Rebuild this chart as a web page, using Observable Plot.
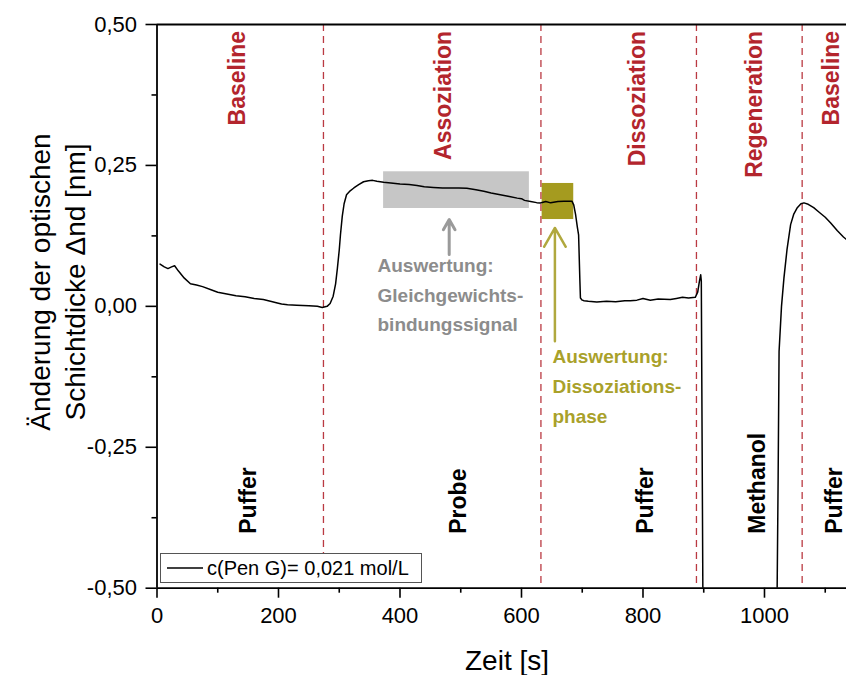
<!DOCTYPE html>
<html>
<head>
<meta charset="utf-8">
<script src="https://cdn.jsdelivr.net/npm/d3@7"></script>
<script src="https://cdn.jsdelivr.net/npm/@observablehq/plot@0.6"></script>
<style>
  html, body { margin: 0; padding: 0; background: #fff; }
  #chart svg { display: block; }
</style>
</head>
<body>
<div id="chart"></div>
<script>
// ---- data (time in s, change of optical thickness in nm) ----
const times = [5, 12, 18, 24, 29, 35, 45, 55, 65, 75, 90, 100, 115, 130, 145, 160, 175, 190, 198, 205, 215, 230, 250, 264, 272, 280, 285, 290, 294, 297, 300, 302, 305, 308, 312, 318, 324, 332, 340, 348, 355, 362, 373, 385, 400, 415, 428, 440, 455, 470, 483, 497, 510, 525, 538, 550, 565, 580, 593, 600, 605, 615, 625, 631, 640, 648, 660, 670, 683, 686, 689, 692, 694, 696, 697, 700, 703, 710, 724, 740, 755, 770, 779, 790, 800, 812, 825, 845, 855, 865, 875, 886, 890, 893, 895, 896, 899, 905, 1015, 1020, 1022.5, 1024, 1028, 1032, 1037, 1043, 1048, 1054, 1060, 1065, 1072, 1081, 1090, 1100, 1109, 1120, 1130, 1135];
const values = [0.075, 0.070, 0.067, 0.070, 0.072, 0.063, 0.050, 0.040, 0.038, 0.035, 0.029, 0.025, 0.022, 0.019, 0.017, 0.014, 0.012, 0.008, 0.006, 0.004, 0.003, 0.002, 0.001, 0.000, -0.002, 0.000, 0.005, 0.018, 0.040, 0.068, 0.100, 0.127, 0.160, 0.182, 0.198, 0.205, 0.210, 0.216, 0.221, 0.223, 0.2235, 0.222, 0.220, 0.219, 0.217, 0.216, 0.2145, 0.212, 0.211, 0.210, 0.210, 0.210, 0.2095, 0.207, 0.204, 0.201, 0.198, 0.195, 0.192, 0.191, 0.188, 0.186, 0.184, 0.1835, 0.186, 0.1836, 0.186, 0.1866, 0.1866, 0.180, 0.163, 0.140, 0.127, 0.050, 0.0148, 0.011, 0.010, 0.009, 0.0077, 0.009, 0.008, 0.010, 0.010, 0.011, 0.014, 0.011, 0.013, 0.012, 0.014, 0.016, 0.015, 0.016, 0.025, 0.045, 0.056, 0.045, -0.60, -0.62, -0.62, -0.60, -0.30, -0.08, 0.000, 0.050, 0.100, 0.145, 0.163, 0.175, 0.182, 0.1836, 0.181, 0.175, 0.167, 0.158, 0.148, 0.134, 0.123, 0.1185];
const seriesName = "c(Pen G)= 0,021 mol/L";

// phase boundaries (s) and labels
const phaseBounds = [274, 632, 888, 1062];
const phaseNames = ["Baseline", "Assoziation", "Dissoziation", "Regeneration", "Baseline"];
const phaseNameX = [132, 472, 791, 984, 1110];
const solutionNames = ["Puffer", "Probe", "Puffer", "Methanol", "Puffer"];
const solutionX = [151, 496, 805, 988, 1116];

// evaluation windows: [t1, t2, v1, v2]
const equilibriumWindow = [373, 613, 0.1736, 0.2387];
const dissociationWindow = [634, 686, 0.154, 0.218];
// annotation arrows [t, vFrom, vTo]
const equilibriumArrow = [481, 0.092, 0.154];
const dissociationArrow = [655, -0.062, 0.139];
const equilibriumText = ["Auswertung:", "Gleichgewichts-", "bindungssignal"];
const equilibriumTextPos = [363, [0.0711, 0.0178, -0.0338]];
const dissociationText = ["Auswertung:", "Dissoziations-", "phase"];
const dissociationTextPos = [651, [-0.0889, -0.1422, -0.1955]];

// axes
const xTicks = [0, 200, 400, 600, 800, 1000];
const xMinorTicks = [100, 300, 500, 700, 900, 1100];
const yTicks = [-0.5, -0.25, 0, 0.25, 0.5];
const yTickLabels = ["-0,50", "-0,25", "0,00", "0,25", "0,50"];
const yMinorTicks = [-0.375, -0.125, 0.125, 0.375];
const xLabel = "Zeit [s]";
const yLabelLines = ["Änderung der optischen", "Schichtdicke \u0394nd [nm]"];

const data = times.map((t, i) => ({t, v: values[i]}));
const RED = "#b3252d";
const GRAY = "#8c8c8c";
const OLIVE = "#a9a12a";
const FONT = "'Liberation Sans', Arial, sans-serif";
const phaseTopY = 0.4887;
const solutionBottomY = -0.4034;

const chart = Plot.plot({
  width: 846,
  height: 675,
  marginLeft: 156.5,
  marginRight: 0,
  marginTop: 24,
  marginBottom: 87.3,
  x: {domain: [0, 1135]},
  y: {domain: [-0.5, 0.5]},
  style: {fontFamily: FONT, background: "white", color: "black"},
  marks: [
    Plot.rect([equilibriumWindow], {x1: d => d[0], x2: d => d[1], y1: d => d[2], y2: d => d[3], fill: "#c6c6c6"}),
    Plot.rect([dissociationWindow], {x1: d => d[0], x2: d => d[1], y1: d => d[2], y2: d => d[3], fill: "#a59b1f"}),
    Plot.ruleX(phaseBounds, {stroke: RED, strokeWidth: 1.3, strokeDasharray: "7,5", strokeOpacity: 0.9}),
    Plot.line(data, {x: "t", y: "v", stroke: "black", strokeWidth: 1.5, clip: true}),
    Plot.arrow([equilibriumArrow], {x1: d => d[0], x2: d => d[0], y1: d => d[1], y2: d => d[2], stroke: "#9a9a9a", strokeWidth: 3, headLength: 13}),
    Plot.arrow([dissociationArrow], {x1: d => d[0], x2: d => d[0], y1: d => d[1], y2: d => d[2], stroke: "#b0a83e", strokeWidth: 2.5, headLength: 13}),
    Plot.text(phaseNames, {x: (d, i) => phaseNameX[i], y: phaseTopY, text: d => d, rotate: -90, textAnchor: "end", lineAnchor: "middle", fill: RED, fontWeight: "bold", fontSize: 23}),
    Plot.text(solutionNames, {x: (d, i) => solutionX[i], y: solutionBottomY, text: d => d, rotate: -90, textAnchor: "start", lineAnchor: "middle", fill: "black", fontWeight: "bold", fontSize: 23}),
    Plot.text(equilibriumText, {x: equilibriumTextPos[0], y: (d, i) => equilibriumTextPos[1][i], text: d => d, textAnchor: "start", lineAnchor: "middle", fill: GRAY, fontWeight: "bold", fontSize: 19}),
    Plot.text(dissociationText, {x: dissociationTextPos[0], y: (d, i) => dissociationTextPos[1][i], text: d => d, textAnchor: "start", lineAnchor: "middle", fill: OLIVE, fontWeight: "bold", fontSize: 19}),
    Plot.ruleY([0.5], {stroke: "black", strokeWidth: 1.8}),
    Plot.ruleY([-0.5], {stroke: "black", strokeWidth: 1.8}),
    Plot.ruleX([0], {stroke: "black", strokeWidth: 1.8}),
    Plot.axisX(xTicks, {anchor: "bottom", tickSize: 10, tickPadding: 9, fontSize: 22, label: null, strokeWidth: 1.6, tickFormat: d => String(d)}),
    Plot.axisX(xMinorTicks, {anchor: "bottom", tickSize: 5, tickFormat: () => "", label: null, strokeWidth: 1.6}),
    Plot.axisY(yTicks, {anchor: "left", tickSize: 11, tickPadding: 9, fontSize: 22, label: null, strokeWidth: 1.6, tickFormat: d => yTickLabels[yTicks.indexOf(d)]}),
    Plot.axisY(yMinorTicks, {anchor: "left", tickSize: 5, tickFormat: () => "", label: null, strokeWidth: 1.6})
  ]
});

const svg = d3.select(chart);
// axis titles
svg.append("text")
  .attr("x", 507).attr("y", 660)
  .attr("text-anchor", "middle").attr("dy", "0.35em")
  .attr("font-family", FONT).attr("font-size", 28).attr("fill", "black")
  .text(xLabel);
yLabelLines.forEach((line, i) => {
  svg.append("text")
    .attr("transform", `translate(${40 + i * 35},282) rotate(-90)`)
    .attr("text-anchor", "middle").attr("dy", "0.35em")
    .attr("font-family", FONT).attr("font-size", 28).attr("fill", "black")
    .text(line);
});
// legend
const lg = svg.append("g");
lg.append("rect").attr("x", 160.5).attr("y", 553.5).attr("width", 261).attr("height", 29)
  .attr("fill", "white").attr("stroke", "#555").attr("stroke-width", 1);
lg.append("line").attr("x1", 167).attr("x2", 203).attr("y1", 568).attr("y2", 568)
  .attr("stroke", "black").attr("stroke-width", 1.5);
lg.append("text").attr("x", 207).attr("y", 568).attr("dy", "0.35em")
  .attr("text-anchor", "start")
  .attr("font-family", FONT).attr("font-size", 20).attr("fill", "black")
  .text(seriesName);

document.getElementById("chart").appendChild(chart);
</script>
</body>
</html>
